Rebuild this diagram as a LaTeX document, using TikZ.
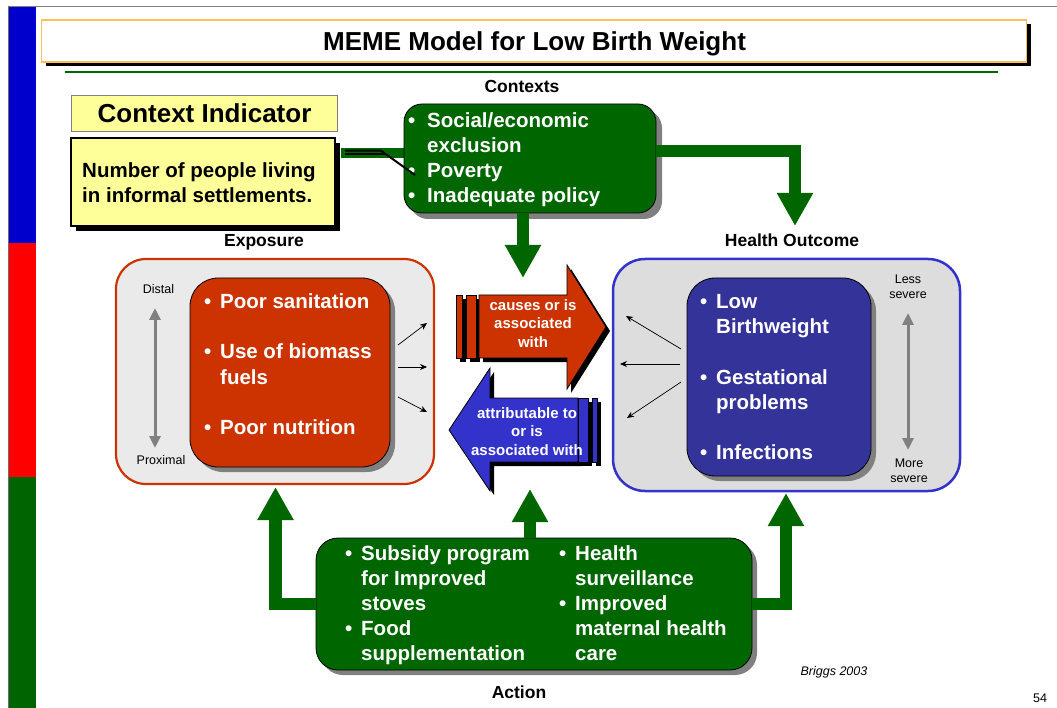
\documentclass[tikz,border=0pt]{standalone}
\usepackage{fontspec}
\setmainfont{Liberation Sans}
\usetikzlibrary{arrows.meta,shadows,calc}
\newcommand\myfs[2]{\fontsize{#1}{#2}\selectfont}
\definecolor{gr}{RGB}{0,102,0}
\definecolor{barg}{RGB}{0,100,0}
\definecolor{barb}{RGB}{0,0,204}
\definecolor{barr}{RGB}{255,0,0}
\definecolor{expred}{RGB}{204,51,0}
\definecolor{hblue}{RGB}{51,51,153}
\definecolor{hborder}{RGB}{51,51,204}
\definecolor{ablue}{RGB}{51,51,204}
\definecolor{lgone}{RGB}{234,234,234}
\definecolor{lgtwo}{RGB}{221,221,221}
\definecolor{ylw}{RGB}{255,255,153}
\definecolor{torange}{RGB}{255,190,90}
\definecolor{shd}{RGB}{128,128,128}
\definecolor{framegray}{RGB}{110,110,110}
\begin{document}
\begin{tikzpicture}[x=1pt,y=-1pt,
  bt/.style={font=\myfs{20.5}{25}\bfseries, text=white, anchor=base west, inner sep=0pt},
  lbl/.style={font=\myfs{17.5}{20}\bfseries, anchor=base, inner sep=0pt},
  smalltxt/.style={font=\myfs{12.5}{15}\selectfont, anchor=base, inner sep=0pt},
  arrtxt/.style={font=\myfs{15}{18}\bfseries, text=white, anchor=base, inner sep=0pt},
  grayshadow/.style={drop shadow={shadow xshift=5pt,shadow yshift=-5pt,fill=shd,opacity=1}},
  blackshadow/.style={drop shadow={shadow xshift=5pt,shadow yshift=-5pt,fill=black,opacity=1}},
  greenbox/.style={draw=black, line width=0.8pt, fill=gr, inner sep=0pt, grayshadow},
  garrow/.style={draw=gr, line width=12.5pt, line join=miter, -{Triangle[width=34pt,length=33pt]}},
  blk/.style={draw=black, line width=0.7pt, -{Stealth[length=7pt,width=6pt]}},
  grayarr/.style={draw=shd, line width=3pt, {Triangle[width=11pt,length=12pt]}-{Triangle[width=11pt,length=12pt]}},
]
\useasboundingbox (0,0) rectangle (1057,708);
\fill[white] (0,0) rectangle (1057,708);
% side bar and frame
\fill[barb] (9,7) rectangle (35.5,243);
\fill[barr] (9,243) rectangle (35.5,477);
\fill[barg] (9,477) rectangle (35.5,708);
\draw[line width=1.5pt, color=shd] (8,6.5) -- (1057,6.5);
\draw[line width=1.2pt, color=framegray] (8.3,6) -- (8.3,708);
% title
\node[draw=torange, line width=1.3pt, fill=white, minimum width=985pt, minimum height=42pt, inner sep=0pt,
  drop shadow={shadow xshift=4.5pt,shadow yshift=-4.5pt,fill=black,opacity=1}] (titlebox) at (534,41) {};
\node[font=\myfs{26}{30}\bfseries, anchor=base, inner sep=0pt] (title) at (534.5,50.5) {MEME Model for Low Birth Weight};
\draw[gr, line width=2pt] (64.5,72) -- (998,72);
% labels
\node[lbl] (lctx) at (522,93) {Contexts};
\node[lbl] (lexp) at (264,247) {Exposure};
\node[lbl] (lho) at (792,247) {Health Outcome};
\node[lbl] (lact) at (519,698) {Action};
% context indicator
\node[draw=shd, line width=0.8pt, fill=ylw, minimum width=266pt, minimum height=36pt, inner sep=0pt] (ci) at (204,113) {};
\node[font=\myfs{26}{30}\bfseries, anchor=base, inner sep=0pt] (citxt) at (204.5,122.5) {Context Indicator};
\node[draw=black, line width=1.2pt, fill=ylw, minimum width=264pt, minimum height=88pt, inner sep=0pt, blackshadow] (num) at (203,182) {};
\node[font=\myfs{20.5}{25}\bfseries, anchor=base west, inner sep=0pt] (n1) at (82,178) {Number of people living};
\node[font=\myfs{20.5}{25}\bfseries, anchor=base west, inner sep=0pt] (n2) at (82,203) {in informal settlements.};
% callout band
\fill[gr] (341,148) rectangle (406,158);
% contexts box
\node[greenbox, rounded corners=18pt, minimum width=252pt, minimum height=109pt,
  drop shadow={shadow xshift=6pt,shadow yshift=-6pt,fill=shd,opacity=1}] (ctx) at (530,158.5) {};
\node[bt] (cb1) at (408,128) {•};
\node[bt] (c1) at (427,128) {Social/economic};
\node[bt] (c2) at (427,153) {exclusion};
\node[bt] (cb3) at (408,178) {•};
\node[bt] (c3) at (427,178) {Poverty};
\node[bt] (cb4) at (408,203) {•};
\node[bt] (c4) at (427,203) {Inadequate policy};
\draw[black, line width=2pt] (345,150.7) -- (381,150.7) -- (415,175);
\draw[black, line width=2pt] (345,154.3) -- (385,154.3);
% exposure
\node[draw=expred, line width=2.2pt, fill=lgone, rounded corners=30pt, minimum width=318pt, minimum height=225pt, inner sep=0pt] (expo) at (275,371.5) {};
\node[draw=black, line width=0.8pt, fill=expred, rounded corners=28pt, minimum width=200pt, minimum height=189pt, inner sep=0pt, grayshadow] (expin) at (290,372.5) {};
\node[bt] (eb1) at (204,309) {•};
\node[bt] (e1) at (220,309) {Poor sanitation};
\node[bt] (eb2) at (204,359) {•};
\node[bt] (e2) at (220,359) {Use of biomass};
\node[bt] (e3) at (220,384) {fuels};
\node[bt] (eb4) at (204,434) {•};
\node[bt] (e4) at (220,434) {Poor nutrition};
\node[smalltxt] (distal) at (158.5,293.5) {Distal};
\node[smalltxt] (proximal) at (161,464) {Proximal};
\draw[grayarr] (155,308) -- (155,448);
\draw[blk] (398,345) -- (427,323);
\draw[blk] (398,367) -- (427,367);
\draw[blk] (398,397) -- (427,412);
% health outcome
\node[draw=hborder, line width=2.5pt, fill=lgtwo, rounded corners=32pt, minimum width=347pt, minimum height=232pt, inner sep=0pt] (ho) at (786.5,375) {};
\node[draw=black, line width=0.8pt, fill=hblue, rounded corners=28pt, minimum width=184pt, minimum height=198pt, inner sep=0pt, grayshadow] (hoin) at (779,377) {};
\node[bt] (hb1) at (700,309) {•};
\node[bt] (h1) at (716,309) {Low};
\node[bt] (h2) at (716,334) {Birthweight};
\node[bt] (hb3) at (700,384) {•};
\node[bt] (h3) at (716,384) {Gestational};
\node[bt] (h4) at (716,409) {problems};
\node[bt] (hb5) at (700,459) {•};
\node[bt] (h5) at (716,459) {Infections};
\node[smalltxt] (less1) at (908,283.5) {Less};
\node[smalltxt] (less2) at (908,298.5) {severe};
\node[smalltxt] (more1) at (909,467.5) {More};
\node[smalltxt] (more2) at (909,482.5) {severe};
\draw[grayarr] (908,313) -- (908,450);
\draw[blk] (681,349) -- (626,316);
\draw[blk] (680,364) -- (620,364);
\draw[blk] (681,382) -- (627,418);
% middle arrows
\fill[black] (460,299) rectangle (466,362);
\fill[black] (470,299) rectangle (480,362);
\fill[black] (483,299) -- (571,299) -- (571,269) -- (610,331) -- (571,393) -- (571,362) -- (483,362) -- cycle;
\draw[black, line width=0.8pt, fill=expred] (456,295) rectangle (462,358);
\draw[black, line width=0.8pt, fill=expred] (466,295) rectangle (476,358);
\draw[black, line width=0.8pt, fill=expred] (479,295) -- (567,295) -- (567,265) -- (606,327) -- (567,389) -- (567,358) -- (479,358) -- cycle;
\node[arrtxt] (r1) at (533,311) {causes or is};
\node[arrtxt] (r2) at (533,329) {associated};
\node[arrtxt] (r3) at (533,348) {with};
\fill[black] (582,402) -- (494,402) -- (494,372) -- (453,434) -- (494,495) -- (494,466) -- (582,466) -- cycle;
\fill[black] (582,402) rectangle (592,466);
\fill[black] (596,402) rectangle (601,466);
\draw[black, line width=0.8pt, fill=ablue] (578,398) -- (490,398) -- (490,368) -- (449,430) -- (490,491) -- (490,462) -- (578,462) -- cycle;
\draw[black, line width=0.8pt, fill=ablue] (578,398) rectangle (588,462);
\draw[black, line width=0.8pt, fill=ablue] (592,398) rectangle (597,462);
\node[arrtxt] (b1) at (527,418) {attributable to};
\node[arrtxt] (b2) at (527,436) {or is};
\node[arrtxt] (b3) at (527,455) {associated with};
% action box
\node[greenbox, rounded corners=22pt, minimum width=436pt, minimum height=132pt] (act) at (534,604) {};
\node[bt] (ab1) at (345,560) {•};
\node[bt] (a1) at (361,560) {Subsidy program};
\node[bt] (a2) at (361,585) {for Improved};
\node[bt] (a3) at (361,610) {stoves};
\node[bt] (ab4) at (345,635) {•};
\node[bt] (a4) at (361,635) {Food};
\node[bt] (a5) at (361,660) {supplementation};
\node[bt] (ab6) at (559,560) {•};
\node[bt] (a6) at (575,560) {Health};
\node[bt] (a7) at (575,585) {surveillance};
\node[bt] (ab8) at (559,610) {•};
\node[bt] (a8) at (575,610) {Improved};
\node[bt] (a9) at (575,635) {maternal health};
\node[bt] (a10) at (575,660) {care};
% green connectors
\coordinate (tipH) at (795,226);
\coordinate (tipE) at (523,278);
\coordinate (tipAL) at (275.5,487);
\coordinate (tipAM) at (530,489);
\coordinate (tipAR) at (786,493);
\draw[garrow] ([yshift=7.5pt]ctx.east) -| (tipH);
\draw[garrow] ([xshift=-7pt]ctx.south) -- (tipE);
\draw[garrow] (act.west) -| (tipAL);
\draw[garrow] ([xshift=-4pt]act.north) -- (tipAM);
\draw[garrow] (act.east) -| (tipAR);
% credits
\node[font=\myfs{12.5}{15}\itshape, anchor=base, inner sep=0pt] (cite) at (834,675.5) {Briggs 2003};
\node[smalltxt] (page) at (1040,702.5) {54};
\end{tikzpicture}
\end{document}
